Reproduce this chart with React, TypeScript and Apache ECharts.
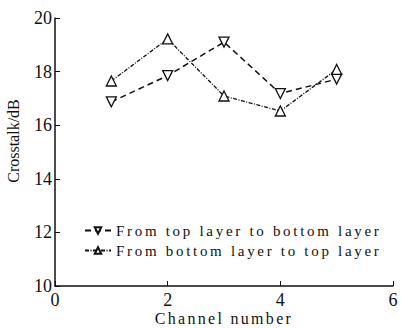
import React, { useEffect, useRef } from "react";
import * as echarts from "echarts";

const channels = [1, 2, 3, 4, 5];
const topToBottom = [16.87, 17.85, 19.1, 17.18, 17.72];
const bottomToTop = [17.65, 19.22, 17.09, 16.53, 18.08];
const seriesNames = ["From top layer to bottom layer", "From bottom layer to top layer"];
const xName = "Channel number";
const yName = "Crosstalk/dB";

export default function App() {
  const ref = useRef<HTMLDivElement>(null);
  useEffect(() => {
    const el = ref.current!;
    const chart = echarts.init(el, null, { renderer: "svg" });
    const font = "'Liberation Serif', 'Times New Roman', Times, serif";
    const axisLine = { show: true, onZero: false, lineStyle: { color: "#111", width: 1.5 } };
    chart.setOption({
      animation: false,
      backgroundColor: "#fff",
      grid: { left: 55, right: 8, top: 18, bottom: 42, containLabel: false, outerBoundsMode: "none" },
      legend: {
        orient: "vertical",
        left: 84,
        top: 223,
        padding: 0,
        itemGap: 5,
        itemWidth: 26,
        itemHeight: 8,
        data: seriesNames,
        textStyle: { fontFamily: font, fontSize: 15, color: "#111" },
      },
      xAxis: {
        type: "value",
        min: 0,
        max: 6,
        interval: 2,
        name: xName,
        nameLocation: "middle",
        nameGap: 24,
        nameMoveOverlap: false,
        nameTextStyle: { fontFamily: font, fontSize: 16, color: "#111" },
        axisLine,
        axisTick: { show: true, inside: true, length: 5, lineStyle: { color: "#111" } },
        axisLabel: { fontFamily: font, fontSize: 18, color: "#111", margin: 5 },
        splitLine: { show: false },
      },
      yAxis: {
        type: "value",
        min: 10,
        max: 20,
        interval: 2,
        name: yName,
        nameLocation: "middle",
        nameGap: 34,
        nameMoveOverlap: false,
        nameTextStyle: { fontFamily: font, fontSize: 16, color: "#111", padding: [0, 0, 0, 22] },
        axisLine,
        axisTick: { show: true, inside: true, length: 5, lineStyle: { color: "#111" } },
        axisLabel: { fontFamily: font, fontSize: 18, color: "#111", margin: 3 },
        splitLine: { show: false },
      },
      series: [
        {
          name: seriesNames[0],
          type: "line",
          data: channels.map((c, i) => [c, topToBottom[i]]),
          symbol: "triangle",
          symbolRotate: 180,
          symbolSize: 10,
          lineStyle: { color: "#111", width: 1.5, type: [6, 4] },
          itemStyle: { color: "#fff", borderColor: "#111", borderWidth: 1.3 },
        },
        {
          name: seriesNames[1],
          type: "line",
          data: channels.map((c, i) => [c, bottomToTop[i]]),
          symbol: "triangle",
          symbolSize: 10,
          lineStyle: { color: "#111", width: 1.3, type: [4, 1.5, 1, 1.5] },
          itemStyle: { color: "#fff", borderColor: "#111", borderWidth: 1.3 },
        },
      ],
    });
    const spacing: Record<string, string> = {
      [seriesNames[0]]: "2.7px",
      [seriesNames[1]]: "2.7px",
      [xName]: "2.3px",
    };
    const apply = () => {
      el.querySelectorAll("text").forEach((t) => {
        const s = spacing[(t.textContent || "").trim()];
        if (s) t.style.letterSpacing = s;
      });
    };
    apply();
    chart.on("finished", apply);
    const raf = requestAnimationFrame(apply);
    const to = setTimeout(apply, 50);
    return () => {
      cancelAnimationFrame(raf);
      clearTimeout(to);
      chart.dispose();
    };
  }, []);
  return <div ref={ref} style={{ width: 401, height: 328, position: "absolute", left: 0, top: 0 }} />;
}
